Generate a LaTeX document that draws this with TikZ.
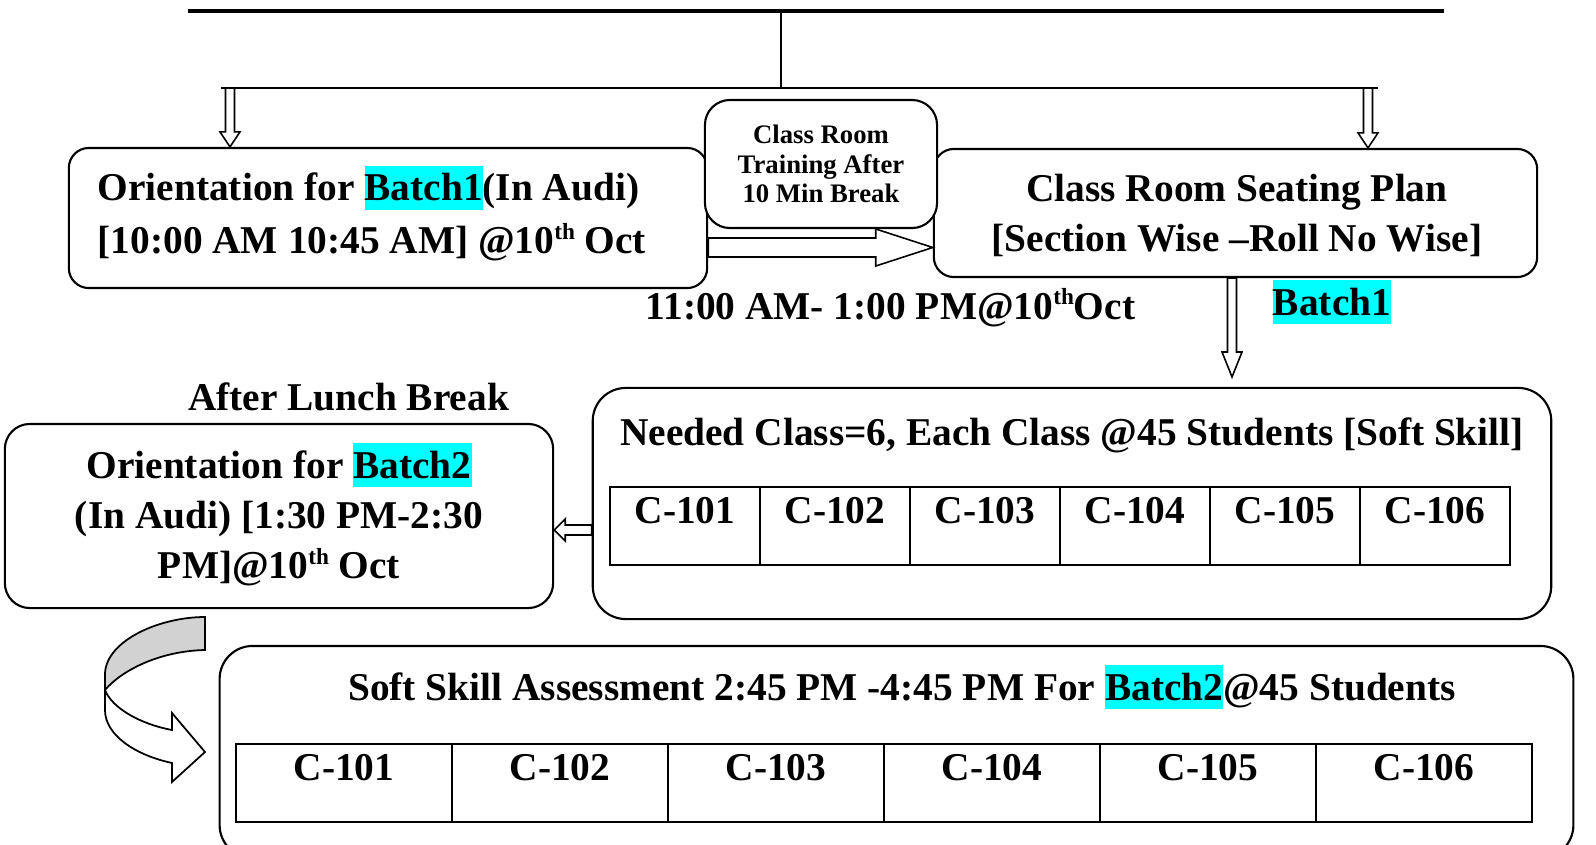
\documentclass[tikz,border=0pt]{standalone}
\usepackage{fontspec}
\setmainfont{Liberation Serif}
\usetikzlibrary{calc}

\definecolor{hlcyan}{RGB}{0,255,255}
\newcommand{\hlbatch}[1]{{\setlength{\fboxsep}{0pt}\colorbox{hlcyan}{\rule[-0.23em]{0pt}{1.12em}#1}}}
\newcommand{\thsup}{\raisebox{0.36em}{\fontsize{6.6pt}{7pt}\selectfont th}}
% block arrow: from, tip, half shaft, half head, head length
\newcommand{\hollowarrow}[5]{%
\coordinate (head) at ($#2!#5!#1$);
\filldraw[arrowline] ($#1!#3!90:#2$) -- ($(head)!#3!90:#2$) -- ($(head)!#4!90:#2$) -- #2
  -- ($(head)!#4!-90:#2$) -- ($(head)!#3!-90:#2$) -- ($#1!#3!-90:#2$) -- cycle;}

\begin{document}
\begin{tikzpicture}[x=0.01cm,y=-0.01cm,
  every node/.style={font=\bfseries\fontsize{11.2pt}{14.2pt}\selectfont,inner sep=0pt},
  box/.style={draw,semithick,fill=white,rounded corners=#1},
  box/.default=0.2cm,
  cell/.style={draw,thick,minimum height=0.78cm,text height=0.27cm,text depth=0.33cm},
  arrowline/.style={draw,fill=white,line width=0.45pt}]
\useasboundingbox (0,0) rectangle (1596,845);
\clip (0,0) rectangle (1596,845);

% top bar and split
\coordinate (barL) at (188,11);
\coordinate (barR) at (1444,11);
\coordinate (barmid) at (781,11);
\coordinate (splitL) at (230,88);
\coordinate (splitR) at (1368,88);
\draw[line width=1.1pt] (barL) -- (barR);
\draw (barmid) -- (barmid |- splitL);
\draw[line width=0.7pt] ([xshift=-0.09cm]splitL) -- ([xshift=0.1cm]splitR);

% first row
\node[box,minimum width=6.38cm,minimum height=1.40cm] (orientA) at (388,218) {};
\node[box,minimum width=6.03cm,minimum height=1.28cm] (seating) at (1235.5,213) {};
\node[box=0.25cm,minimum width=2.32cm,minimum height=1.28cm,align=center,
  font=\bfseries\fontsize{7.6pt}{8.3pt}\selectfont] (breakbox) at (821,164) {Class Room\\Training After\\10 Min Break};
\node[anchor=west,align=left,font=\bfseries\fontsize{11.2pt}{15pt}\selectfont] (orientAtxt) at (97,213.5)
  {Orientation for \hlbatch{Batch1}(In Audi)\\{}[10:00 AM 10:45 AM] @10\thsup{} Oct};
\node[align=center] (seatingtxt) at (1237,215) {Class Room Seating Plan\\{}[Section Wise --Roll No Wise]};
\node[anchor=base] (timeA) at (890.5,319) {11:00 AM- 1:00 PM@10\thsup{}Oct};
\node[anchor=base] (batchone) at (1332,315) {\hlbatch{Batch1}};

% second row
\node[anchor=base] (lunch) at (348.5,410) {After Lunch Break};
\node[box=0.25cm,minimum width=5.48cm,minimum height=1.84cm] (orientB) at (279,516) {};
\node[align=center] (orientBtxt) at (279,514.5)
  {Orientation for \hlbatch{Batch2}\\(In Audi) [1:30 PM-2:30\\PM]@10\thsup{} Oct};
\node[box=0.33cm,minimum width=9.58cm,minimum height=2.31cm] (needed) at (1072,503.5) {};
\node[anchor=base] (neededtxt) at (1072,445) {Needed Class=6, Each Class @45 Students [Soft Skill]};
\foreach \i in {1,...,6}
\node[cell,minimum width=1.5cm] (classE\i) at ({535+150*\i},526) {C-10\i};

% last row
\node[box=0.33cm,minimum width=13.53cm,minimum height=2.12cm] (assess) at (896.5,752) {};
\node[anchor=base] (assesstxt) at (902,700) {Soft Skill Assessment 2:45 PM -4:45 PM For \hlbatch{Batch2}@45 Students};
\foreach \i in {1,...,6}
\node[cell,minimum width=2.16cm] (classF\i) at ({128+216*\i},783) {C-10\i};

% arrows
\coordinate (rowAC) at (0,247.5);
\coordinate (colCE) at (1232,377);
\coordinate (rowED) at (0,530);
\hollowarrow{(splitL)}{(splitL |- orientA.north)}{0.045cm}{0.1cm}{0.15cm}
\hollowarrow{(splitR)}{(splitR |- seating.north)}{0.045cm}{0.1cm}{0.15cm}
\hollowarrow{(orientA.east |- rowAC)}{(seating.west |- rowAC)}{0.095cm}{0.185cm}{0.57cm}
\hollowarrow{(seating.south -| colCE)}{(colCE)}{0.045cm}{0.1cm}{0.25cm}
\hollowarrow{(needed.west |- rowED)}{(orientB.east |- rowED)}{0.05cm}{0.11cm}{0.11cm}

% turning arrow
\filldraw[fill=gray!35,line width=0.5pt] (205,617) .. controls (160,617) and (107,640) .. (105,673)
  -- (105,690) .. controls (122,670) and (160,651) .. (205,650) -- cycle;
\filldraw[fill=white,line width=0.5pt] (105,690) .. controls (112,708) and (140,724) .. (172,730)
  -- (172,713) -- (205,752) -- (172,782) -- (172,763) .. controls (135,755) and (105,735) .. (105,710) -- cycle;
\end{tikzpicture}
\end{document}
